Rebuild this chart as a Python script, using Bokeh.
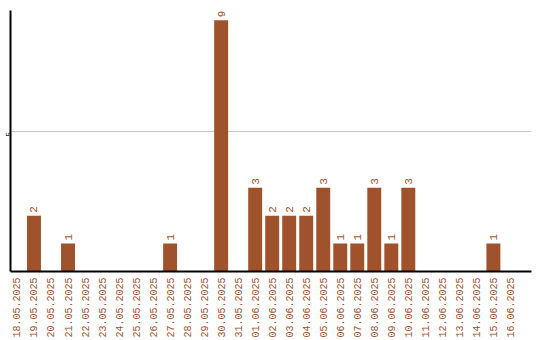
import math
from bokeh.plotting import figure
from bokeh.models import ColumnDataSource, FixedTicker, Range1d
from bokeh.core.properties import value
from bokeh.embed import file_html
from bokeh.resources import INLINE

dates = ["18.05.2025", "19.05.2025", "20.05.2025", "21.05.2025", "22.05.2025",
         "23.05.2025", "24.05.2025", "25.05.2025", "26.05.2025", "27.05.2025",
         "28.05.2025", "29.05.2025", "30.05.2025", "31.05.2025", "01.06.2025",
         "02.06.2025", "03.06.2025", "04.06.2025", "05.06.2025", "06.06.2025",
         "07.06.2025", "08.06.2025", "09.06.2025", "10.06.2025", "11.06.2025",
         "12.06.2025", "13.06.2025", "14.06.2025", "15.06.2025", "16.06.2025"]
counts = [0, 2, 0, 1, 0, 0, 0, 0, 0, 1, 0, 0, 9, 0, 3,
          2, 2, 2, 3, 1, 1, 3, 1, 3, 0, 0, 0, 0, 1, 0]
y_ticks = [5]

COLOR = "#a0522d"
FONT = "Liberation Mono"

xs = list(range(len(dates)))
src = ColumnDataSource(dict(x=xs, y=counts))
nz = [i for i, c in enumerate(counts) if c > 0]
lab_src = ColumnDataSource(dict(x=[xs[i] for i in nz], y=[counts[i] for i in nz],
                                t=[str(counts[i]) for i in nz]))

p = figure(width=540, height=340, output_backend="svg", toolbar_location=None,
           x_range=Range1d(-0.38, 30.24), y_range=Range1d(0, 9.35),
           min_border_left=0, min_border_right=9, min_border_top=10, min_border_bottom=0)
p.outline_line_color = None
p.background_fill_color = "white"
p.border_fill_color = "white"

p.vbar(x="x", top="y", width=0.82, bottom=0, source=src, fill_color=COLOR, line_color=None)
p.text(x="x", y="y", text="t", source=lab_src, angle=math.pi / 2, y_offset=-3,
       text_align="left", text_baseline="middle", text_font=value(FONT),
       text_font_size="11px", text_color=COLOR)

# x axis
p.xaxis.ticker = FixedTicker(ticks=xs)
p.xaxis.major_label_overrides = {i: d for i, d in enumerate(dates)}
p.xaxis.major_label_orientation = math.pi / 2
p.xaxis.major_label_text_font = FONT
p.xaxis.major_label_text_font_size = "10px"
p.xaxis.major_label_text_color = COLOR
p.xaxis.major_label_standoff = 6
p.xaxis.major_tick_out = 0
p.xaxis.major_tick_in = 0
p.xaxis.minor_tick_out = 0
p.xaxis.minor_tick_in = 0
p.xaxis.axis_line_color = "black"
p.xaxis.axis_line_width = 2
p.xgrid.grid_line_color = None

# y axis
p.yaxis.ticker = FixedTicker(ticks=y_ticks)
p.yaxis.major_label_orientation = math.pi / 2
p.yaxis.major_label_text_font = FONT
p.yaxis.major_label_text_font_size = "8px"
p.yaxis.major_label_text_color = "black"
p.yaxis.major_label_standoff = 2
p.yaxis.major_tick_out = 0
p.yaxis.major_tick_in = 0
p.yaxis.minor_tick_out = 0
p.yaxis.minor_tick_in = 0
p.yaxis.axis_line_color = "black"
p.yaxis.axis_line_width = 2
p.ygrid.ticker = FixedTicker(ticks=y_ticks)
p.ygrid.grid_line_color = "#c8c8c8"
p.ygrid.grid_line_width = 1

open("out.html", "w").write(file_html(p, INLINE))
